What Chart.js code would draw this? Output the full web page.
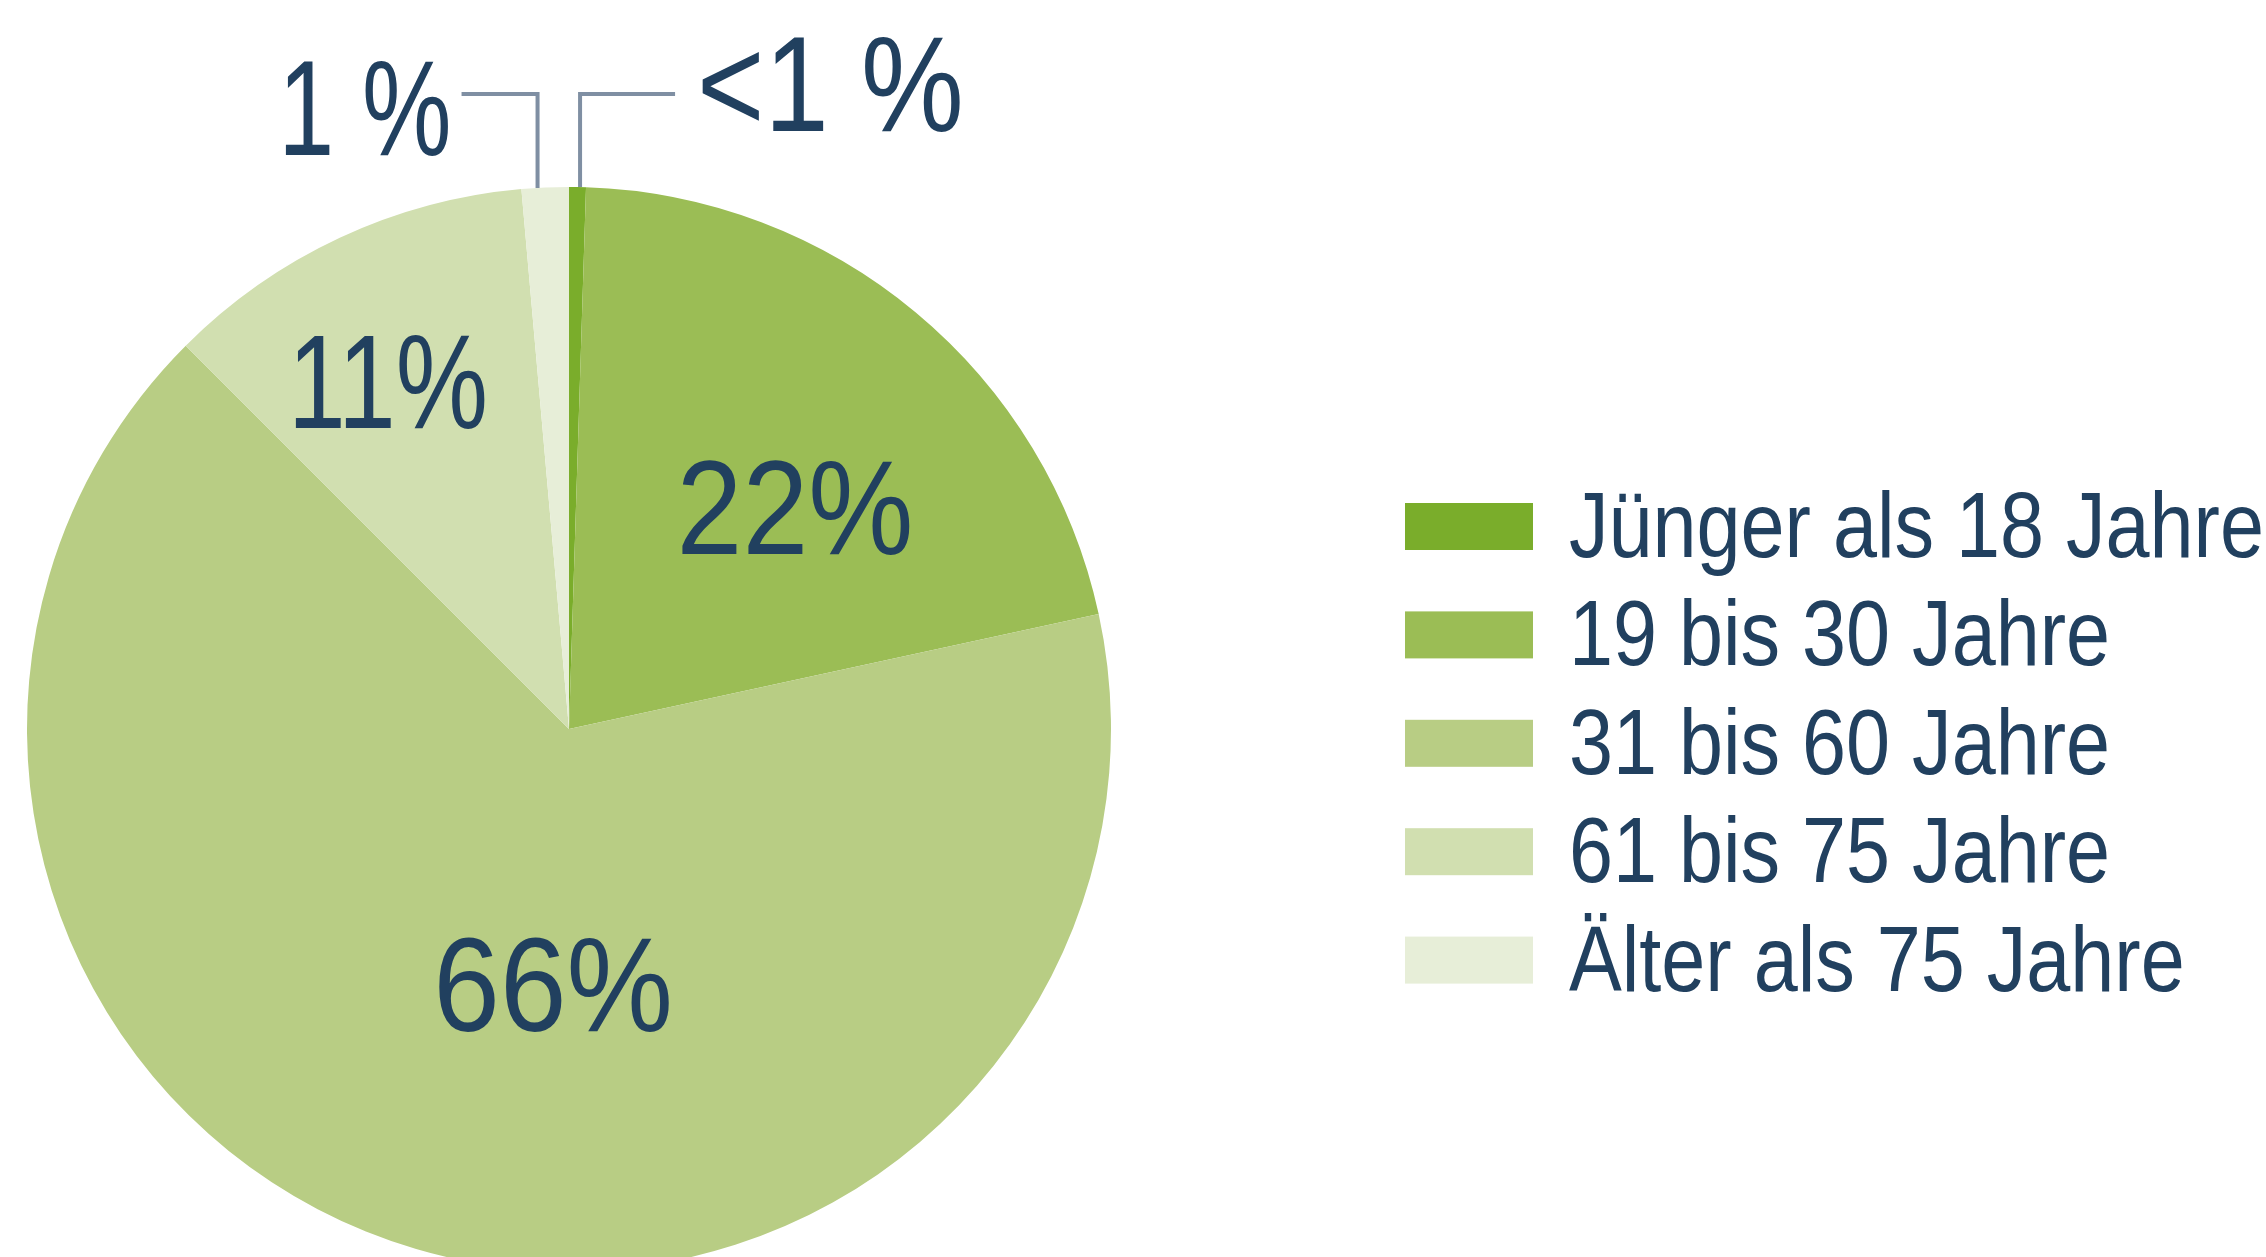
<!DOCTYPE html>
<html>
<head>
<meta charset="utf-8">
<script src="https://cdn.jsdelivr.net/npm/chart.js@4.4.1/dist/chart.umd.min.js"></script>
<style>
    html, body { margin: 0; padding: 0; background: #fff; overflow: hidden; }
    #wrap { width: 2266px; height: 1257px; }
</style>
</head>
<body>
<div id="wrap"><canvas id="chart" width="2266" height="1257"></canvas></div>
<script>
// data (share of each age group, %)
const categories = ['Jünger als 18 Jahre', '19 bis 30 Jahre', '31 bis 60 Jahre', '61 bis 75 Jahre', 'Älter als 75 Jahre'];
const shares = [0.5, 21.1, 65.9, 11.1, 1.4];
const valueLabels = ['<1 %', '22%', '66%', '11%', '1 %'];
const sliceColors = ['#7aad2b', '#9bbd55', '#b8cd84', '#d1dfb0', '#e7eed8'];

const textColor = '#21405f';
const leaderColor = '#7f8fa3';
const fontFamily = '"Liberation Sans", Arial, sans-serif';

// where each value label sits: t = fraction along the slice, r = fraction of radius
const labelPlace = [
    { t: 0.65, outside: true, side: 1, squeeze: 0.85 },
    { t: 0.575, r: 0.585, squeeze: 0.89 },
    { t: 0.446, r: 0.47, squeeze: 0.9 },
    { t: 0.44, r: 0.725, squeeze: 0.78 },
    { t: 0.34, outside: true, side: -1, squeeze: 0.74 },
];

// draws text narrowed horizontally, the original font is a condensed one
function narrowText(ctx, text, x, y, align, sx) {
    ctx.save();
    ctx.translate(x, y);
    ctx.scale(sx, 1);
    ctx.textAlign = align;
    ctx.textBaseline = 'alphabetic';
    ctx.fillText(text, 0, 0);
    ctx.restore();
}

const labelPlugin = {
    id: 'sliceLabels',
    afterDatasetsDraw(chart) {
        const ctx = chart.ctx;
        const meta = chart.getDatasetMeta(0);
        ctx.save();
        ctx.fillStyle = textColor;
        meta.data.forEach((arc, i) => {
            const p = arc.getProps(['x', 'y', 'startAngle', 'endAngle', 'outerRadius'], true);
            const place = labelPlace[i];
            const a = p.startAngle + (p.endAngle - p.startAngle) * place.t;
            if (!place.outside) {
                const size = 133;
                const lx = p.x + Math.cos(a) * p.outerRadius * place.r;
                const ly = p.y + Math.sin(a) * p.outerRadius * place.r;
                ctx.font = '400 ' + size + 'px ' + fontFamily;
                narrowText(ctx, valueLabels[i], lx, ly + size * 0.358, 'center', place.squeeze);
                return;
            }
            // leader line going up from the rim, then sideways
            const x0 = p.x + Math.cos(a) * p.outerRadius;
            const y0 = p.y + Math.sin(a) * p.outerRadius;
            const elbowY = 94;
            const x1 = x0 + place.side * (place.side > 0 ? 95 : 76);
            ctx.strokeStyle = leaderColor;
            ctx.lineWidth = 4;
            ctx.beginPath();
            ctx.moveTo(x0, y0);
            ctx.lineTo(x0, elbowY);
            ctx.lineTo(x1, elbowY);
            ctx.stroke();
            ctx.font = '400 136px ' + fontFamily;
            if (place.side > 0) {
                narrowText(ctx, valueLabels[i], x1 + 22, elbowY + 37, 'left', place.squeeze);
            } else {
                narrowText(ctx, valueLabels[i], x1 - 10, elbowY + 61, 'right', place.squeeze);
            }
        });
        ctx.restore();
    }
};

const legendPlugin = {
    id: 'sideLegend',
    afterDraw(chart) {
        const ctx = chart.ctx;
        const left = 1405, top = 503, step = 108.4;
        ctx.save();
        categories.forEach((name, i) => {
            const y = top + i * step;
            ctx.fillStyle = sliceColors[i];
            ctx.fillRect(left, y, 128, 47);
            ctx.fillStyle = textColor;
            ctx.font = '400 92px ' + fontFamily;
            narrowText(ctx, name, left + 164, y + 54, 'left', 0.86);
        });
        ctx.restore();
    }
};

new Chart(document.getElementById('chart').getContext('2d'), {
    type: 'pie',
    data: {
        labels: categories,
        datasets: [{
            data: shares,
            backgroundColor: sliceColors,
            borderWidth: 0,
        }],
    },
    options: {
        responsive: false,
        animation: false,
        radius: 542,
        layout: {
            padding: { left: 27, right: 1155, top: 201, bottom: 0 },
        },
        plugins: {
            legend: { display: false },
            tooltip: { enabled: false },
        },
    },
    plugins: [labelPlugin, legendPlugin],
});
</script>
</body>
</html>
